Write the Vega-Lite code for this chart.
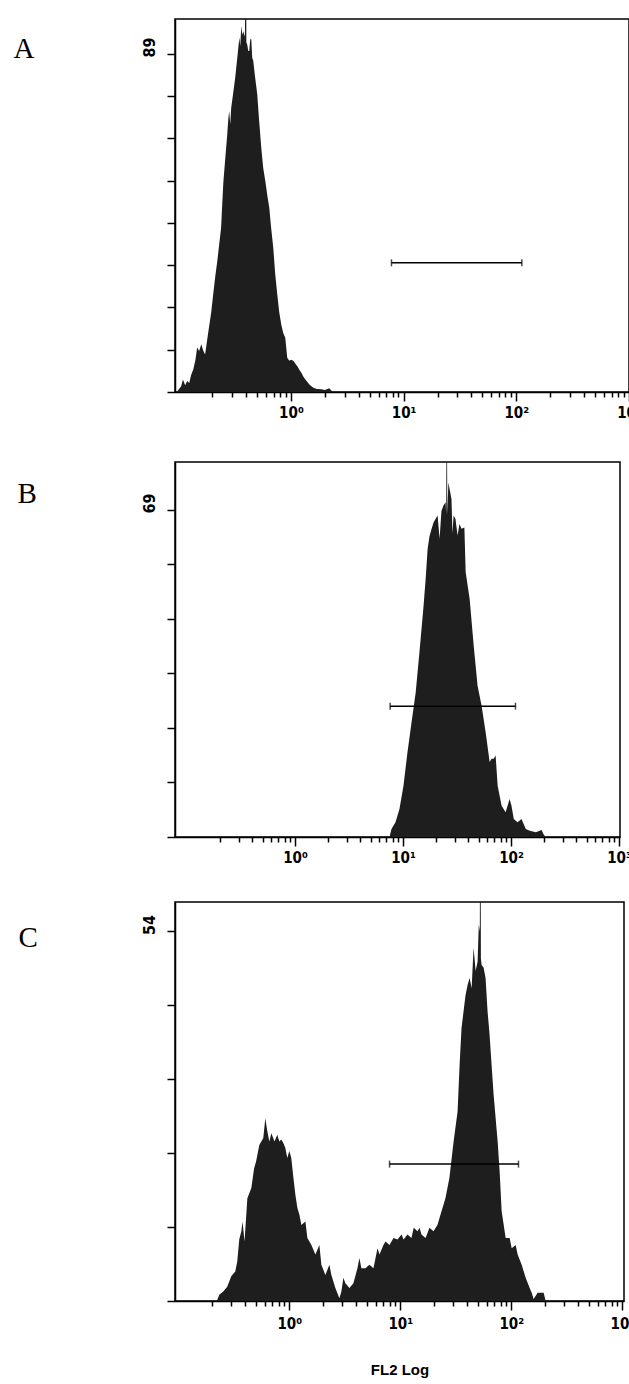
{
  "$schema": "https://vega.github.io/schema/vega-lite/v6.json",
  "background": "white",
  "padding": {"left": 12, "top": 18, "right": 0, "bottom": 0},
  "spacing": 35,
  "config": {
    "view": {"stroke": "black", "strokeWidth": 1.5},
    "axis": {"domainColor": "black", "tickColor": "black", "labelColor": "black", "titleColor": "black", "grid": false, "labelFont": "DejaVu Sans Condensed", "labelFontWeight": "bold", "domainWidth": 1.5, "tickWidth": 1.5}
  },
  "datasets": {
    "histA": [
      {"fl": 0.097, "count": 0}, {"fl": 0.1, "count": 0.5}, {"fl": 0.106, "count": 1.5}, {"fl": 0.11, "count": 3.3}, {"fl": 0.115, "count": 1.8}, {"fl": 0.12, "count": 2.9}, {"fl": 0.125, "count": 2.4}, {"fl": 0.13, "count": 4.5}, {"fl": 0.136, "count": 6.0}, {"fl": 0.142, "count": 8.5}, {"fl": 0.147, "count": 11.7}, {"fl": 0.153, "count": 10.8}, {"fl": 0.16, "count": 12.6}, {"fl": 0.166, "count": 11.0}, {"fl": 0.173, "count": 9.9}, {"fl": 0.18, "count": 13.5}, {"fl": 0.188, "count": 17.4}, {"fl": 0.196, "count": 21.0}, {"fl": 0.204, "count": 25.7}, {"fl": 0.213, "count": 30.5}, {"fl": 0.222, "count": 34.5}, {"fl": 0.231, "count": 39.0}, {"fl": 0.24, "count": 43.3}, {"fl": 0.246, "count": 50.0}, {"fl": 0.251, "count": 55.1}, {"fl": 0.262, "count": 62.0}, {"fl": 0.272, "count": 67.8}, {"fl": 0.278, "count": 72.0}, {"fl": 0.283, "count": 74.0}, {"fl": 0.289, "count": 70.5}, {"fl": 0.295, "count": 74.9}, {"fl": 0.308, "count": 79.0}, {"fl": 0.32, "count": 82.8}, {"fl": 0.334, "count": 88.0}, {"fl": 0.348, "count": 93.3}, {"fl": 0.355, "count": 91.0}, {"fl": 0.362, "count": 96.4}, {"fl": 0.37, "count": 94.0}, {"fl": 0.377, "count": 95.0}, {"fl": 0.39, "count": 93.5}, {"fl": 0.3985, "count": 120}, {"fl": 0.402, "count": 92.0}, {"fl": 0.409, "count": 91.5}, {"fl": 0.418, "count": 89.8}, {"fl": 0.4265, "count": 89.8}, {"fl": 0.435, "count": 92.9}, {"fl": 0.4445, "count": 92.9}, {"fl": 0.453, "count": 88.0}, {"fl": 0.4625, "count": 87.2}, {"fl": 0.48, "count": 83.0}, {"fl": 0.502, "count": 78.4}, {"fl": 0.52, "count": 72.0}, {"fl": 0.545, "count": 64.3}, {"fl": 0.567, "count": 59.0}, {"fl": 0.5915, "count": 55.6}, {"fl": 0.615, "count": 52.0}, {"fl": 0.642, "count": 48.5}, {"fl": 0.668, "count": 43.0}, {"fl": 0.6965, "count": 38.0}, {"fl": 0.725, "count": 31.0}, {"fl": 0.756, "count": 25.7}, {"fl": 0.787, "count": 21.0}, {"fl": 0.82, "count": 17.8}, {"fl": 0.855, "count": 15.5}, {"fl": 0.89, "count": 14.3}, {"fl": 0.927, "count": 9.0}, {"fl": 0.966, "count": 8.2}, {"fl": 1.0, "count": 8.5}, {"fl": 1.049, "count": 8.2}, {"fl": 1.09, "count": 7.5}, {"fl": 1.139, "count": 6.8}, {"fl": 1.19, "count": 5.8}, {"fl": 1.236, "count": 5.1}, {"fl": 1.29, "count": 4.0}, {"fl": 1.342, "count": 3.3}, {"fl": 1.4, "count": 2.6}, {"fl": 1.456, "count": 2.0}, {"fl": 1.52, "count": 1.5}, {"fl": 1.58, "count": 1.1}, {"fl": 1.7, "count": 0.8}, {"fl": 1.861, "count": 0.7}, {"fl": 2.0, "count": 0.5}, {"fl": 2.19, "count": 1.0}, {"fl": 2.28, "count": 0.4}, {"fl": 2.38, "count": 0}
    ],
    "histB": [
      {"fl": 7.5, "count": 0}, {"fl": 7.82, "count": 1.7}, {"fl": 8.52, "count": 3.1}, {"fl": 9.27, "count": 5.9}, {"fl": 10.1, "count": 10.8}, {"fl": 11.0, "count": 17.9}, {"fl": 12.0, "count": 24.2}, {"fl": 13.1, "count": 30.5}, {"fl": 14.2, "count": 39.0}, {"fl": 15.5, "count": 48.8}, {"fl": 16.2, "count": 54.4}, {"fl": 16.9, "count": 60.8}, {"fl": 17.6, "count": 63.5}, {"fl": 18.4, "count": 65.0}, {"fl": 19.2, "count": 66.4}, {"fl": 20.0, "count": 67.1}, {"fl": 20.9, "count": 67.8}, {"fl": 21.8, "count": 62.9}, {"fl": 22.7, "count": 68.8}, {"fl": 23.7, "count": 69.9}, {"fl": 24.8, "count": 70.6}, {"fl": 25.1, "count": 68.0}, {"fl": 25.4, "count": 100}, {"fl": 25.7, "count": 68.0}, {"fl": 26.3, "count": 74.8}, {"fl": 27.0, "count": 73.4}, {"fl": 28.1, "count": 71.3}, {"fl": 28.7, "count": 64.0}, {"fl": 29.4, "count": 67.8}, {"fl": 30.6, "count": 67.1}, {"fl": 32.0, "count": 63.6}, {"fl": 33.3, "count": 66.0}, {"fl": 34.8, "count": 65.0}, {"fl": 37.0, "count": 65.3}, {"fl": 38.0, "count": 55.9}, {"fl": 41.4, "count": 50.2}, {"fl": 45.1, "count": 40.4}, {"fl": 49.0, "count": 31.9}, {"fl": 53.4, "count": 27.7}, {"fl": 58.2, "count": 22.1}, {"fl": 63.4, "count": 15.8}, {"fl": 66.0, "count": 16.5}, {"fl": 69.0, "count": 16.5}, {"fl": 72.0, "count": 17.2}, {"fl": 75.2, "count": 10.8}, {"fl": 81.8, "count": 6.6}, {"fl": 89.1, "count": 5.2}, {"fl": 97.0, "count": 8.0}, {"fl": 101, "count": 6.6}, {"fl": 106, "count": 3.8}, {"fl": 115, "count": 3.1}, {"fl": 125, "count": 3.8}, {"fl": 137, "count": 1.7}, {"fl": 149, "count": 1.3}, {"fl": 170, "count": 1.0}, {"fl": 192, "count": 1.5}, {"fl": 200, "count": 0.6}, {"fl": 209, "count": 0}
    ],
    "histC": [
      {"fl": 0.2246, "count": 0.2}, {"fl": 0.234, "count": 0.9}, {"fl": 0.254, "count": 1.4}, {"fl": 0.276, "count": 2.1}, {"fl": 0.3, "count": 3.6}, {"fl": 0.326, "count": 4.3}, {"fl": 0.34, "count": 5.8}, {"fl": 0.354, "count": 9.0}, {"fl": 0.37, "count": 10.2}, {"fl": 0.379, "count": 11.6}, {"fl": 0.395, "count": 8.7}, {"fl": 0.419, "count": 15.0}, {"fl": 0.455, "count": 16.5}, {"fl": 0.482, "count": 19.4}, {"fl": 0.502, "count": 20.4}, {"fl": 0.537, "count": 22.8}, {"fl": 0.583, "count": 23.8}, {"fl": 0.608, "count": 26.7}, {"fl": 0.634, "count": 24.8}, {"fl": 0.661, "count": 23.3}, {"fl": 0.689, "count": 24.5}, {"fl": 0.736, "count": 23.3}, {"fl": 0.78, "count": 24.3}, {"fl": 0.813, "count": 23.3}, {"fl": 0.847, "count": 23.6}, {"fl": 0.883, "count": 23.1}, {"fl": 0.92, "count": 22.4}, {"fl": 0.959, "count": 20.9}, {"fl": 1.0, "count": 21.9}, {"fl": 1.042, "count": 20.9}, {"fl": 1.089, "count": 18.0}, {"fl": 1.135, "count": 15.5}, {"fl": 1.183, "count": 13.6}, {"fl": 1.233, "count": 12.6}, {"fl": 1.285, "count": 11.1}, {"fl": 1.396, "count": 11.6}, {"fl": 1.455, "count": 9.2}, {"fl": 1.581, "count": 8.2}, {"fl": 1.718, "count": 6.8}, {"fl": 1.866, "count": 8.2}, {"fl": 1.945, "count": 5.3}, {"fl": 2.113, "count": 3.8}, {"fl": 2.296, "count": 5.3}, {"fl": 2.393, "count": 3.8}, {"fl": 2.6, "count": 1.9}, {"fl": 2.825, "count": 0.4}, {"fl": 2.945, "count": 1.4}, {"fl": 3.07, "count": 3.4}, {"fl": 3.2, "count": 2.6}, {"fl": 3.48, "count": 1.9}, {"fl": 3.78, "count": 2.6}, {"fl": 4.11, "count": 4.8}, {"fl": 4.28, "count": 6.3}, {"fl": 4.46, "count": 4.8}, {"fl": 4.85, "count": 4.8}, {"fl": 5.27, "count": 5.3}, {"fl": 5.73, "count": 4.8}, {"fl": 6.23, "count": 7.7}, {"fl": 6.49, "count": 6.8}, {"fl": 7.05, "count": 8.2}, {"fl": 7.35, "count": 8.7}, {"fl": 7.99, "count": 8.2}, {"fl": 8.68, "count": 9.2}, {"fl": 9.43, "count": 9.0}, {"fl": 10.25, "count": 9.7}, {"fl": 10.7, "count": 9.0}, {"fl": 11.6, "count": 9.7}, {"fl": 12.6, "count": 9.2}, {"fl": 13.2, "count": 10.7}, {"fl": 14.3, "count": 10.2}, {"fl": 14.9, "count": 10.7}, {"fl": 15.5, "count": 9.7}, {"fl": 16.9, "count": 9.2}, {"fl": 18.3, "count": 10.7}, {"fl": 19.9, "count": 10.2}, {"fl": 21.6, "count": 11.1}, {"fl": 23.5, "count": 13.1}, {"fl": 25.5, "count": 15.0}, {"fl": 27.7, "count": 18.0}, {"fl": 30.2, "count": 23.3}, {"fl": 32.8, "count": 27.7}, {"fl": 34.2, "count": 34.5}, {"fl": 35.6, "count": 39.9}, {"fl": 38.7, "count": 44.7}, {"fl": 40.4, "count": 46.2}, {"fl": 42.1, "count": 47.2}, {"fl": 43.9, "count": 45.7}, {"fl": 45.7, "count": 51.6}, {"fl": 47.7, "count": 48.2}, {"fl": 49.7, "count": 49.6}, {"fl": 50.9, "count": 55.0}, {"fl": 52.0, "count": 54.0}, {"fl": 52.6, "count": 80}, {"fl": 53.2, "count": 50.0}, {"fl": 54.0, "count": 49.1}, {"fl": 56.3, "count": 48.7}, {"fl": 58.6, "count": 47.2}, {"fl": 61.1, "count": 42.3}, {"fl": 63.7, "count": 38.9}, {"fl": 66.4, "count": 34.5}, {"fl": 69.3, "count": 30.1}, {"fl": 75.3, "count": 23.3}, {"fl": 78.5, "count": 18.9}, {"fl": 81.8, "count": 13.1}, {"fl": 88.9, "count": 9.2}, {"fl": 96.6, "count": 9.2}, {"fl": 100.7, "count": 7.7}, {"fl": 109.4, "count": 8.2}, {"fl": 114.0, "count": 6.8}, {"fl": 123.9, "count": 5.3}, {"fl": 134.6, "count": 3.4}, {"fl": 146.3, "count": 1.9}, {"fl": 152.5, "count": 1.2}, {"fl": 158.9, "count": 0.3}, {"fl": 172.7, "count": 1.2}, {"fl": 195.5, "count": 1.2}, {"fl": 203.8, "count": 0}
    ],
    "markA": [{"lo": 7.8, "hi": 112, "y": 34.0}],
    "markB": [{"lo": 7.6, "hi": 110, "y": 27.6}],
    "markC": [{"lo": 8.0, "hi": 116, "y": 20.0}]
  },
  "vconcat": [
    {
      "width": 454, "height": 373,
      "layer": [
        {
          "data": {"name": "histA"},
          "mark": {"type": "area", "color": "#1e1e1e", "clip": true, "interpolate": "linear"},
          "encoding": {
            "x": {"field": "fl", "type": "quantitative", "title": " ",
              "scale": {"type": "log", "domain": [0.0935, 1000], "nice": false},
              "axis": {
                "values": [0.2,0.3,0.4,0.5,0.6,0.7,0.8,0.9,1,2,3,4,5,6,7,8,9,10,20,30,40,50,60,70,80,90,100,200,300,400,500,600,700,800,900,1000],
                "labelExpr": "datum.value == 1 ? '10⁰' : datum.value == 10 ? '10¹' : datum.value == 100 ? '10²' : datum.value == 1000 ? '10³' : ''",
                "tickSize": {"condition": {"test": "datum.value == 1 || datum.value == 10 || datum.value == 100 || datum.value == 1000", "value": 9}, "value": 5},
                "labelFontSize": 15, "labelPadding": 4, "labelFlush": false, "labelOverlap": false, "labelBound": false,
                "titleFontSize": 2, "titlePadding": 3
              }},
            "y": {"field": "count", "type": "quantitative", "title": "A",
              "scale": {"domain": [0, 98.2], "nice": false},
              "axis": {
                "values": [0, 11.125, 22.25, 33.375, 44.5, 55.625, 66.75, 77.875, 89],
                "labelExpr": "datum.value == 89 ? '89' : ''",
                "tickSize": 8, "labelAngle": -90, "labelFontSize": 16, "labelPadding": 10, "labelOffset": -7,
                "titleAngle": 0, "titleX": -162, "titleY": 38, "titleAlign": "left", "titleBaseline": "alphabetic",
                "titleFont": "Liberation Serif", "titleFontSize": 29, "titleFontWeight": "normal"
              }}
          }
        },
        {
          "data": {"name": "markA"},
          "mark": {"type": "rule", "color": "black", "strokeWidth": 1.5},
          "encoding": {"x": {"field": "lo", "type": "quantitative", "title": " "}, "x2": {"field": "hi"}, "y": {"field": "y", "type": "quantitative", "title": "A"}}
        },
        {
          "data": {"name": "markA"},
          "mark": {"type": "tick", "orient": "vertical", "size": 7, "thickness": 1.5, "color": "black"},
          "encoding": {"x": {"field": "lo", "type": "quantitative", "title": " "}, "y": {"field": "y", "type": "quantitative", "title": "A"}}
        },
        {
          "data": {"name": "markA"},
          "mark": {"type": "tick", "orient": "vertical", "size": 7, "thickness": 1.5, "color": "black"},
          "encoding": {"x": {"field": "hi", "type": "quantitative", "title": " "}, "y": {"field": "y", "type": "quantitative", "title": "A"}}
        }
      ]
    },
    {
      "width": 445, "height": 375,
      "layer": [
        {
          "data": {"name": "histB"},
          "mark": {"type": "area", "color": "#1e1e1e", "clip": true, "interpolate": "linear"},
          "encoding": {
            "x": {"field": "fl", "type": "quantitative", "title": null,
              "scale": {"type": "log", "domain": [0.0774, 1021], "nice": false},
              "axis": {
                "values": [0.2,0.3,0.4,0.5,0.6,0.7,0.8,0.9,1,2,3,4,5,6,7,8,9,10,20,30,40,50,60,70,80,90,100,200,300,400,500,600,700,800,900,1000],
                "labelExpr": "datum.value == 1 ? '10⁰' : datum.value == 10 ? '10¹' : datum.value == 100 ? '10²' : datum.value == 1000 ? '10³' : ''",
                "tickSize": {"condition": {"test": "datum.value == 1 || datum.value == 10 || datum.value == 100 || datum.value == 1000", "value": 9}, "value": 5},
                "labelFontSize": 15, "labelPadding": 4, "labelFlush": false, "labelOverlap": false, "labelBound": false
              }},
            "y": {"field": "count", "type": "quantitative", "title": "B",
              "scale": {"domain": [0, 79.1], "nice": false},
              "axis": {
                "values": [0, 11.5, 23, 34.5, 46, 57.5, 69],
                "labelExpr": "datum.value == 69 ? '69' : ''",
                "tickSize": 8, "labelAngle": -90, "labelFontSize": 16, "labelPadding": 10, "labelOffset": -7,
                "titleAngle": 0, "titleX": -158, "titleY": 40, "titleAlign": "left", "titleBaseline": "alphabetic",
                "titleFont": "Liberation Serif", "titleFontSize": 29, "titleFontWeight": "normal"
              }}
          }
        },
        {
          "data": {"name": "markB"},
          "mark": {"type": "rule", "color": "black", "strokeWidth": 1.5},
          "encoding": {"x": {"field": "lo", "type": "quantitative", "title": null}, "x2": {"field": "hi"}, "y": {"field": "y", "type": "quantitative", "title": "B"}}
        },
        {
          "data": {"name": "markB"},
          "mark": {"type": "tick", "orient": "vertical", "size": 7, "thickness": 1.5, "color": "black"},
          "encoding": {"x": {"field": "lo", "type": "quantitative", "title": null}, "y": {"field": "y", "type": "quantitative", "title": "B"}}
        },
        {
          "data": {"name": "markB"},
          "mark": {"type": "tick", "orient": "vertical", "size": 7, "thickness": 1.5, "color": "black"},
          "encoding": {"x": {"field": "hi", "type": "quantitative", "title": null}, "y": {"field": "y", "type": "quantitative", "title": "B"}}
        }
      ]
    },
    {
      "width": 449, "height": 399,
      "layer": [
        {
          "data": {"name": "histC"},
          "mark": {"type": "area", "color": "#1e1e1e", "clip": true, "interpolate": "linear"},
          "encoding": {
            "x": {"field": "fl", "type": "quantitative", "title": "FL2 Log",
              "scale": {"type": "log", "domain": [0.0934, 1035], "nice": false},
              "axis": {
                "values": [0.2,0.3,0.4,0.5,0.6,0.7,0.8,0.9,1,2,3,4,5,6,7,8,9,10,20,30,40,50,60,70,80,90,100,200,300,400,500,600,700,800,900,1000],
                "labelExpr": "datum.value == 1 ? '10⁰' : datum.value == 10 ? '10¹' : datum.value == 100 ? '10²' : datum.value == 1000 ? '10³' : ''",
                "tickSize": {"condition": {"test": "datum.value == 1 || datum.value == 10 || datum.value == 100 || datum.value == 1000", "value": 9}, "value": 5},
                "labelFontSize": 15, "labelPadding": 6, "labelFlush": false, "labelOverlap": false, "labelBound": false,
                "titleFont": "Liberation Sans", "titleFontSize": 15, "titleFontWeight": "bold", "titlePadding": 31
              }},
            "y": {"field": "count", "type": "quantitative", "title": "C",
              "scale": {"domain": [0, 58.3], "nice": false},
              "axis": {
                "values": [0, 10.8, 21.6, 32.4, 43.2, 54],
                "labelExpr": "datum.value == 54 ? '54' : ''",
                "tickSize": 8, "labelAngle": -90, "labelFontSize": 16, "labelPadding": 10, "labelOffset": -7,
                "titleAngle": 0, "titleX": -157, "titleY": 44, "titleAlign": "left", "titleBaseline": "alphabetic",
                "titleFont": "Liberation Serif", "titleFontSize": 29, "titleFontWeight": "normal"
              }}
          }
        },
        {
          "data": {"name": "markC"},
          "mark": {"type": "rule", "color": "black", "strokeWidth": 1.5},
          "encoding": {"x": {"field": "lo", "type": "quantitative", "title": "FL2 Log"}, "x2": {"field": "hi"}, "y": {"field": "y", "type": "quantitative", "title": "C"}}
        },
        {
          "data": {"name": "markC"},
          "mark": {"type": "tick", "orient": "vertical", "size": 7, "thickness": 1.5, "color": "black"},
          "encoding": {"x": {"field": "lo", "type": "quantitative", "title": "FL2 Log"}, "y": {"field": "y", "type": "quantitative", "title": "C"}}
        },
        {
          "data": {"name": "markC"},
          "mark": {"type": "tick", "orient": "vertical", "size": 7, "thickness": 1.5, "color": "black"},
          "encoding": {"x": {"field": "hi", "type": "quantitative", "title": "FL2 Log"}, "y": {"field": "y", "type": "quantitative", "title": "C"}}
        }
      ]
    }
  ]
}
